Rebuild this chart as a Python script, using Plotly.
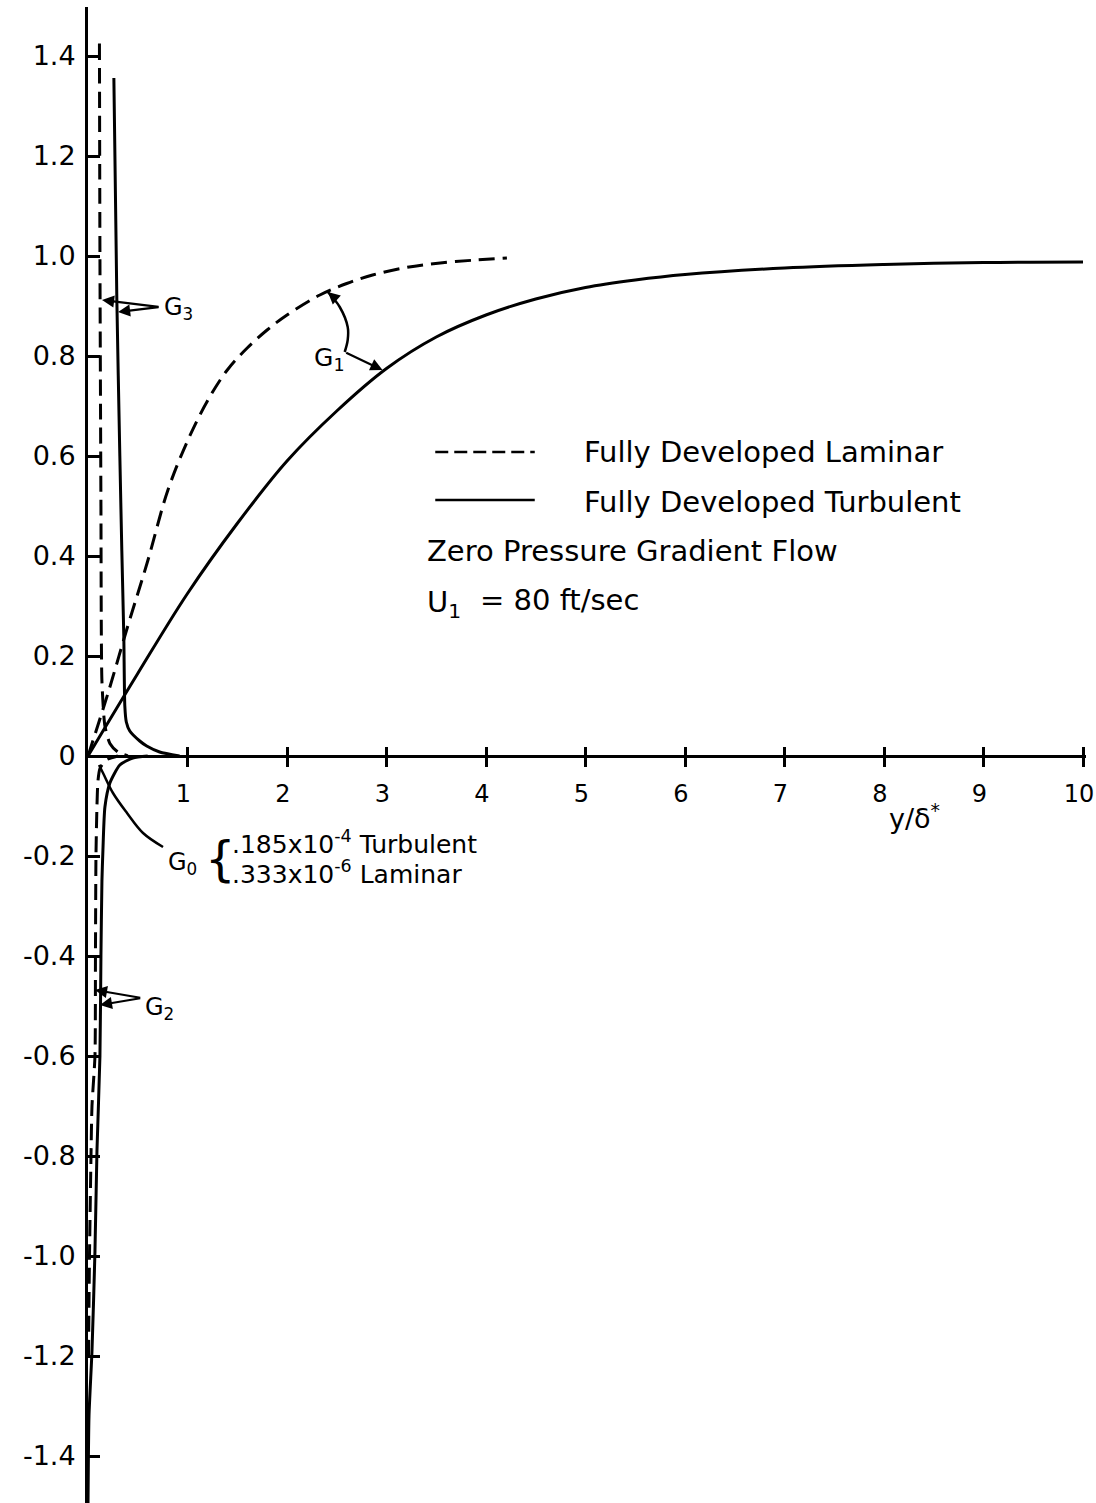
import plotly.graph_objects as go

# ---------------- data ----------------
# G1, fully developed laminar (dashed)
lam_g1_x = [0, 0.2, 0.4, 0.6, 0.8, 1.0, 1.2, 1.4, 1.6, 1.8, 2.0, 2.33, 2.6, 2.86, 3.2, 3.54, 3.9, 4.21]
lam_g1_y = [0, 0.125, 0.26, 0.39, 0.53, 0.63, 0.71, 0.772, 0.816, 0.852, 0.882, 0.922, 0.945, 0.962, 0.977, 0.986, 0.992, 0.996]

# G1, fully developed turbulent (solid)
turb_g1_x = [0, 0.5, 1.0, 1.5, 2.0, 2.5, 3.0, 3.5, 4.0, 4.5, 5, 5.5, 6, 7, 8, 9, 10.0]
turb_g1_y = [0, 0.165, 0.325, 0.465, 0.59, 0.69, 0.775, 0.838, 0.882, 0.914, 0.937, 0.952, 0.963, 0.976, 0.983, 0.987, 0.988]

# G3, laminar (dashed)
lam_g3_x = [0.115, 0.12, 0.13, 0.14, 0.17, 0.22, 0.3, 0.4]
lam_g3_y = [1.425, 1.0, 0.5, 0.15, 0.06, 0.025, 0.008, 0.0]

# G3, turbulent (solid)
turb_g3_x = [0.26, 0.29, 0.32, 0.34, 0.36, 0.37, 0.385, 0.42, 0.52, 0.59, 0.72, 0.92]
turb_g3_y = [1.356, 0.912, 0.6, 0.41, 0.238, 0.10, 0.068, 0.050, 0.030, 0.020, 0.008, 0.0]

# G2, turbulent (solid)
turb_g2_x = [0.0, 0.01, 0.04, 0.07, 0.09, 0.12, 0.13, 0.14, 0.15, 0.17, 0.22, 0.32, 0.45, 0.6]
turb_g2_y = [-1.5, -1.32, -1.19, -0.99, -0.79, -0.6, -0.4, -0.25, -0.188, -0.102, -0.054, -0.018, -0.004, 0.0]

# G2, laminar (dashed)
lam_g2_x = [0.005, 0.015, 0.03, 0.04, 0.07, 0.075, 0.08, 0.09, 0.10, 0.12, 0.18, 0.3]
lam_g2_y = [-1.2, -1.0, -0.8, -0.7, -0.6, -0.4, -0.2, -0.1, -0.05, -0.025, -0.008, 0.0]

# annotation leader paths
g0_leader_x = [0.754, 0.553, 0.392, 0.251, 0.151, 0.111]
g0_leader_y = [-0.182, -0.154, -0.114, -0.074, -0.034, -0.018]
g1_arc_x = [2.41, 2.53, 2.61, 2.61, 2.58]
g1_arc_y = [0.928, 0.898, 0.858, 0.832, 0.808]

# legend samples
legend_x = [3.49, 4.49]
legend_lam_y = [0.608, 0.608]
legend_turb_y = [0.512, 0.512]

# ticks
x_ticks = [1, 2, 3, 4, 5, 6, 7, 8, 9, 10]
x_tick_labels = [str(v) for v in x_ticks]
y_ticks = [1.4, 1.2, 1.0, 0.8, 0.6, 0.4, 0.2, 0, -0.2, -0.4, -0.6, -0.8, -1.0, -1.2, -1.4]
y_tick_labels = ["1.4", "1.2", "1.0", "0.8", "0.6", "0.4", "0.2", "0",
                 "-0.2", "-0.4", "-0.6", "-0.8", "-1.0", "-1.2", "-1.4"]

# ---------------- geometry ----------------
W, H = 1096, 1503
X0PX, XENDPX, PXU = 88, 1086, 99.5
Y0PX, YTOPPX, PYU = 756, 7, 500.0
x_range = [0, (XENDPX - X0PX) / PXU]
y_range = [-(H - Y0PX) / PYU, (Y0PX - YTOPPX) / PYU]
y_dom = [0, (H - YTOPPX) / H]
x_pos = (H - Y0PX) / H

FONT = "DejaVu Sans"
BLACK = "black"
LW = 3
DASH = "16px,8px"

fig = go.Figure()


def line(x, y, dash=None, width=LW, xaxis="x", smooth=1.0):
    fig.add_trace(go.Scatter(
        x=x, y=y, mode="lines", xaxis=xaxis,
        line=dict(color=BLACK, width=width, dash=dash, shape="spline", smoothing=smooth),
        hoverinfo="skip", showlegend=False))


line(lam_g1_x, lam_g1_y, dash=DASH)
line(turb_g1_x, turb_g1_y)
line(lam_g3_x, lam_g3_y, dash=DASH, smooth=0.6)
line(turb_g3_x, turb_g3_y, smooth=0.6)
line(lam_g2_x, lam_g2_y, dash=DASH, smooth=0.6)
line(turb_g2_x, turb_g2_y, smooth=0.6)
line(g0_leader_x, g0_leader_y, width=2.5)
line(g1_arc_x, g1_arc_y, width=2.5)
line(legend_x, legend_lam_y, dash="13px,6px", width=2.5)
line(legend_x, legend_turb_y, width=2.5)

# invisible trace to activate the overlay axis (upper half of crossing ticks)
fig.add_trace(go.Scatter(x=x_ticks, y=[0] * len(x_ticks), xaxis="x2", mode="lines",
                         line=dict(width=0), opacity=0, hoverinfo="skip", showlegend=False))

ann = []


def text(x, y, s, size, xanchor="left", yanchor="middle"):
    ann.append(dict(x=x, y=y, xref="x", yref="y", text=s, showarrow=False,
                    xanchor=xanchor, yanchor=yanchor,
                    font=dict(family=FONT, size=size, color=BLACK)))


def arrow(hx, hy, tx, ty):
    ann.append(dict(x=hx, y=hy, ax=tx, ay=ty, xref="x", yref="y", axref="x", ayref="y",
                    text="", showarrow=True, arrowhead=2, arrowsize=1.1, arrowwidth=2.2,
                    arrowcolor=BLACK, standoff=0, startstandoff=0))


# legend texts
text(4.965, 0.608, "Fully Developed Laminar", 29)
text(4.965, 0.508, "Fully Developed Turbulent", 29)
text(3.387, 0.41, "Zero Pressure Gradient Flow", 29)
text(3.387, 0.305, "U<sub>1</sub>", 29)
text(3.92, 0.312, "= 80 ft/sec", 29)

# G labels
text(2.25, 0.795, "G<sub>1</sub>", 25)
text(0.74, 0.895, "G<sub>3</sub>", 24)
text(0.55, -0.505, "G<sub>2</sub>", 24)
text(0.78, -0.215, "G<sub>0</sub>", 24)
text(1.33, -0.205, "{", 48, xanchor="center")
text(1.43, -0.172, ".185x10<sup>-4</sup> Turbulent", 25)
text(1.43, -0.232, ".333x10<sup>-6</sup> Laminar", 25)

# axis title
text(8.31, -0.12, "y/δ<sup>*</sup>", 27, xanchor="center")

# arrows
arrow(2.41, 0.928, 2.50, 0.912)
arrow(2.96, 0.772, 2.58, 0.808)
arrow(0.141, 0.912, 0.724, 0.898)
arrow(0.302, 0.888, 0.724, 0.898)
arrow(0.07, -0.468, 0.54, -0.484)
arrow(0.12, -0.498, 0.54, -0.484)

fig.update_layout(
    width=W, height=H, autosize=False,
    margin=dict(l=0, r=0, t=0, b=0, pad=0, autoexpand=False),
    paper_bgcolor="white", plot_bgcolor="white",
    showlegend=False,
    font=dict(family=FONT, color=BLACK),
    annotations=ann,
    xaxis=dict(domain=[X0PX / W, XENDPX / W], range=x_range, anchor="free", position=x_pos,
               automargin=False,
               showline=True, linewidth=LW, linecolor=BLACK, showgrid=False, zeroline=False,
               ticks="outside", ticklen=9, tickwidth=2.5, tickcolor=BLACK,
               tickvals=x_ticks, ticktext=x_tick_labels, ticklabelstandoff=6,
               ticklabelshift=-4, ticklabeloverflow="allow",
               tickfont=dict(family=FONT, size=24, color=BLACK)),
    xaxis2=dict(domain=[X0PX / W, XENDPX / W], range=x_range, overlaying="x", anchor="free",
                position=x_pos, side="top", showline=False, showgrid=False, zeroline=False,
                automargin=False,
                ticks="outside", ticklen=9, tickwidth=2.5, tickcolor=BLACK,
                tickvals=x_ticks, showticklabels=False),
    yaxis=dict(domain=y_dom, range=y_range, anchor="x", automargin=False,
               showline=True, linewidth=LW, linecolor=BLACK, showgrid=False, zeroline=False,
               ticks="inside", ticklen=12, tickwidth=2.5, tickcolor=BLACK,
               tickvals=y_ticks, ticktext=y_tick_labels, ticklabelstandoff=4,
               tickfont=dict(family=FONT, size=27, color=BLACK)),
)

fig.write_html("out.html")
